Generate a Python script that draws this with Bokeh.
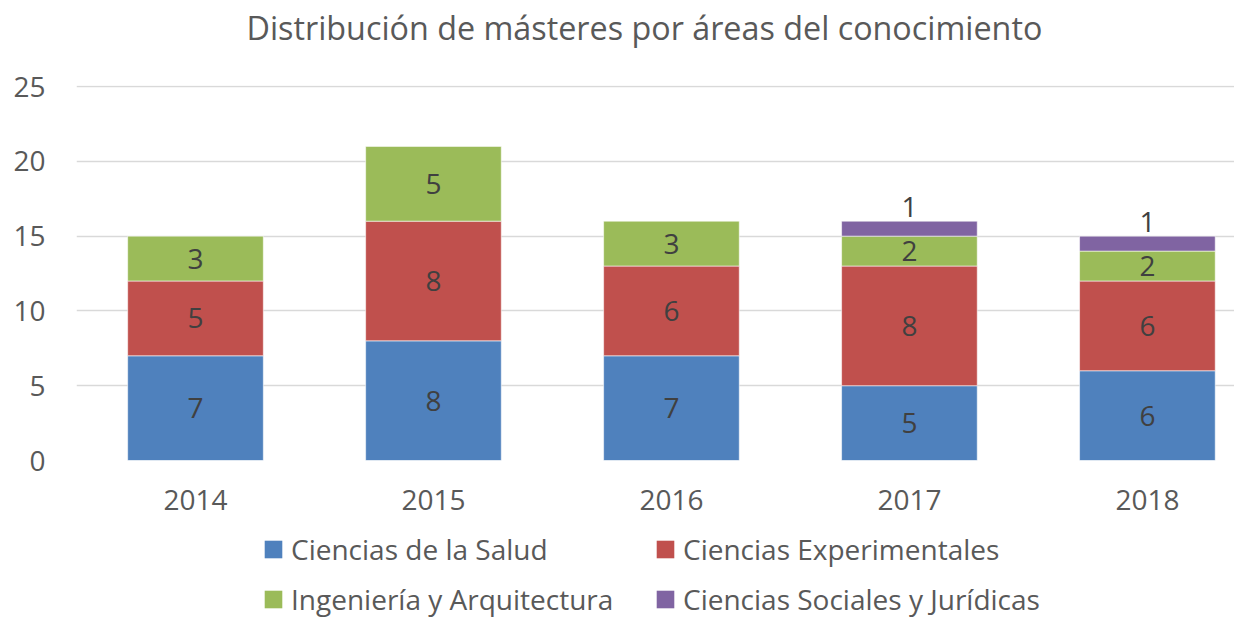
from bokeh.plotting import figure
from bokeh.layouts import column
from bokeh.models import ColumnDataSource, Range1d, FixedTicker, Legend, LegendItem
from bokeh.embed import file_html
from bokeh.resources import INLINE
from bokeh.core.properties import value

# ---- data ----
years = ["2014", "2015", "2016", "2017", "2018"]
salud = [7, 8, 7, 5, 6]
experimentales = [5, 8, 6, 8, 6]
ingenieria = [3, 5, 3, 2, 2]
sociales = [0, 0, 0, 1, 1]
series_names = ["Ciencias de la Salud", "Ciencias Experimentales",
                "Ingeniería y Arquitectura", "Ciencias Sociales y Jurídicas"]
y_ticks = [0, 5, 10, 15, 20, 25]
title_text = "Distribución de másteres por áreas del conocimiento"

colors = ["#4F81BD", "#C0504D", "#9BBB59", "#8064A2"]
FONT = "Open Sans"
AXIS_COLOR = "#595959"
LABEL_COLOR = "#404040"

series = [salud, experimentales, ingenieria, sociales]
x_idx = list(range(len(years)))

# title strip
p0 = figure(width=1234, height=65, output_backend="svg", toolbar_location=None,
            x_range=Range1d(0, 1), y_range=Range1d(0, 1),
            x_axis_type=None, y_axis_type=None,
            min_border_left=0, min_border_right=0, min_border_top=0,
            min_border_bottom=0)
p0.outline_line_color = None
p0.grid.visible = False
p0.title.text = title_text
p0.title.align = "left"
p0.title.offset = 170
p0.title.text_font = FONT
p0.title.text_font_size = "32.3px"
p0.title.text_font_style = "normal"
p0.title.text_color = AXIS_COLOR
p0.title.standoff = 4

# main chart
p = figure(width=1234, height=465, output_backend="svg", toolbar_location=None,
           x_range=Range1d(-0.5, 4.366), y_range=Range1d(0, 25.07),
           min_border_left=76, min_border_right=0, min_border_top=20,
           min_border_bottom=70)
p.outline_line_color = None
p.background_fill_color = "white"
p.border_fill_color = "white"

p.xgrid.visible = False
p.ygrid.grid_line_color = "#D9D9D9"
p.ygrid.grid_line_width = 1.3
p.yaxis.ticker = FixedTicker(ticks=y_ticks)
p.xaxis.ticker = FixedTicker(ticks=x_idx)
p.xaxis.major_label_overrides = {i: y for i, y in zip(x_idx, years)}

for ax in (p.xaxis, p.yaxis):
    ax.axis_line_color = None
    ax.major_tick_line_color = None
    ax.minor_tick_line_color = None
    ax.major_label_text_font = FONT
    ax.major_label_text_font_size = "28px"
    ax.major_label_text_color = AXIS_COLOR
p.yaxis.major_label_standoff = 25
p.xaxis.major_label_standoff = 23

# legend strip (separate figure, its range keeps the proxy bars out of view)
p2 = figure(width=1234, height=88, output_backend="svg", toolbar_location=None,
            x_range=p.x_range, y_range=Range1d(1000, 1001),
            x_axis_type=None, y_axis_type=None,
            min_border_left=0, min_border_right=0, min_border_top=0,
            min_border_bottom=0)
p2.outline_line_color = None
p2.grid.visible = False
p2.background_fill_color = "white"
p2.border_fill_color = "white"

bottom = [0.0] * len(years)
items = []
label_x, label_y, label_t = [], [], []
top_x, top_y, top_t = [], [], []
for k, (name, vals, col) in enumerate(zip(series_names, series, colors)):
    top = [b + v for b, v in zip(bottom, vals)]
    xs = [x for x, v in zip(x_idx, vals) if v > 0]
    bs = [b for b, v in zip(bottom, vals) if v > 0]
    ts = [t for t, v in zip(top, vals) if v > 0]
    src = ColumnDataSource(dict(x=xs, bottom=bs, top=ts))
    p.vbar(x="x", bottom="bottom", top="top", width=0.57, source=src,
           fill_color=col, line_color="white", line_width=0.8, line_alpha=0.7)
    r2 = p2.vbar(x="x", bottom="bottom", top="top", width=0.57, source=src,
                 fill_color=col, line_color=None)
    items.append(LegendItem(label=name, renderers=[r2]))
    for xi, b, t, v in zip(x_idx, bottom, top, vals):
        if v <= 0:
            continue
        if k == 3:
            top_x.append(xi); top_y.append(t); top_t.append(str(v))
        else:
            label_x.append(xi); label_y.append((b + t) / 2); label_t.append(str(v))
    bottom = top

lab_src = ColumnDataSource(dict(x=label_x, y=label_y, t=label_t))
p.text(x="x", y="y", text="t", source=lab_src, text_font=value(FONT),
       text_font_size="28px", text_color=LABEL_COLOR, text_align="center",
       text_baseline="middle")
top_src = ColumnDataSource(dict(x=top_x, y=top_y, t=top_t))
p.text(x="x", y="y", text="t", source=top_src, text_font=value(FONT),
       text_font_size="28px", text_color=LABEL_COLOR, text_align="center",
       text_baseline="bottom", y_offset=-4)

legend = Legend(items=items, orientation="horizontal", ncols=2,
                label_text_font=FONT, label_text_font_size="28px",
                label_text_color=AXIS_COLOR, glyph_width=22, glyph_height=22,
                label_standoff=7, label_width=351, spacing=12, padding=0, margin=0,
                border_line_color=None, background_fill_alpha=0,
                location=(186, 0))
p2.add_layout(legend, "center")

layout = column(p0, p, p2, spacing=0)
open("out.html", "w").write(file_html(layout, INLINE))
